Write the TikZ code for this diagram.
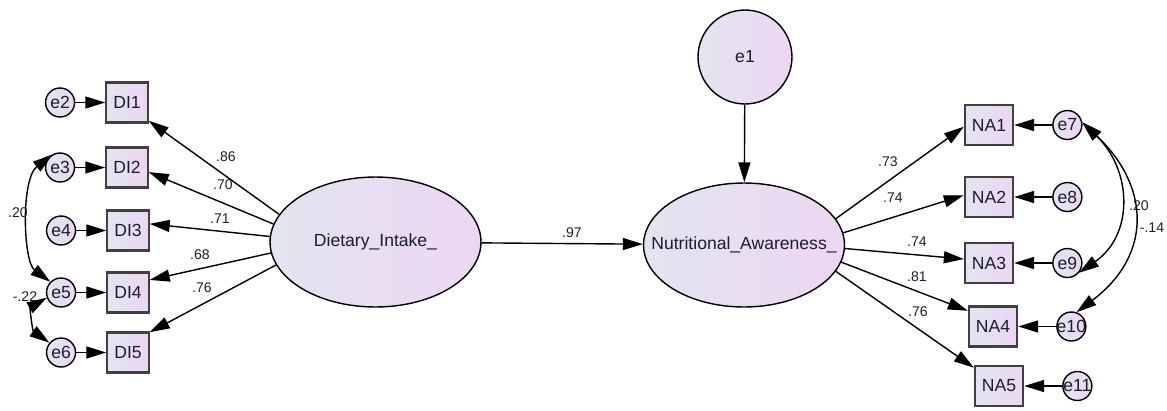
\documentclass[tikz,border=0pt]{standalone}
\usepackage{fontspec}
\setmainfont{Liberation Sans}
\usepackage{tikz}
\usetikzlibrary{arrows.meta,positioning,shapes.geometric}
\definecolor{bgL}{HTML}{E2E5EF}
\definecolor{bgR}{HTML}{EDD6F3}
\definecolor{ink}{HTML}{1C1C30}
\tikzset{
  grad/.style ={left color=bgL,right color=bgR},
  ind/.style  ={draw=black!75,line width=1.2pt,grad,minimum height=8mm,inner xsep=4pt,text=ink},
  fac/.style  ={ellipse,draw,line width=0.8pt,grad,inner sep=0pt,text=ink},
  res/.style  ={circle,draw,line width=0.8pt,grad,minimum size=5.8mm,inner sep=0pt,text=ink},
  flow/.style ={-{Triangle[length=4mm,width=2.4mm]},line width=0.8pt},
  cov/.style  ={{Triangle[length=4mm,width=2.4mm]}-{Triangle[length=4mm,width=2.4mm]},line width=0.8pt},
  lbl/.style  ={font=\fontsize{8pt}{9pt}\selectfont,text=ink,inner sep=0pt},
}
\newcommand{\zw}[1]{\makebox[0pt]{#1}}

\begin{document}
\begin{tikzpicture}[x=0.02cm,y=0.02cm,font=\fontsize{10pt}{12pt}\selectfont]
  \useasboundingbox (0,0) rectangle (1167,-410);
  % latent variables
  \node[fac,minimum width=4.22cm,minimum height=2.6cm] (di) at (375.5,-242) {\zw{Dietary\_Intake\_}};
  \node[fac,minimum width=4.02cm,minimum height=2.48cm] (na) at (744,-245) {\zw{Nutritional\_Awareness\_}};
  \node[res,minimum size=1.88cm] (e1) at (745,-57) {e1};
  \draw[flow] (e1) -- (na);
  \draw[flow] (di) -- (na);
  \node[lbl] (w97) at (572,-233) {.97};
  % dietary intake items
  \node[ind] (DI1) at (127,-102.5) {DI1};
  \node[ind] (DI2) at (127,-167.5) {DI2};
  \node[ind] (DI3) at (128,-230.5) {DI3};
  \node[ind] (DI4) at (128,-292.5) {DI4};
  \node[ind] (DI5) at (128,-352.5) {DI5};
  \node[res,left=6mm of DI1] (e2) {\zw{e2}};
  \node[res,left=6mm of DI2] (e3) {\zw{e3}};
  \node[res,left=6mm of DI3] (e4) {\zw{e4}};
  \node[res,left=6mm of DI4] (e5) {\zw{e5}};
  \node[res,left=6mm of DI5] (e6) {\zw{e6}};
  \draw[flow] (e2) -- (DI1);
  \draw[flow] (e3) -- (DI2);
  \draw[flow] (e4) -- (DI3);
  \draw[flow] (e5) -- (DI4);
  \draw[flow] (e6) -- (DI5);
  \draw[flow] (di.164.5) -- (DI1.-40);
  \draw[flow] (di.170) -- (DI2.-12);
  \draw[flow] (di.177) -- (DI3.17);
  \draw[flow] (di.186) -- (DI4.30);
  \draw[flow] (di.193) -- (DI5.43);
  \node[lbl] (wDI1) at (226,-157) {.86};
  \node[lbl] (wDI2) at (223,-185) {.70};
  \node[lbl] (wDI3) at (220,-219) {.71};
  \node[lbl] (wDI4) at (200,-255) {.68};
  \node[lbl] (wDI5) at (202,-288) {.76};
  \draw[cov] (e3.120) .. controls +(-32,-25) and +(-27,20) .. (e5.135);
  \draw[cov] (e5.200) .. controls +(-17,-10) and +(-17,12) .. (e6.140);
  \node[lbl] (c35) at (18,-213) {.20};
  \node[lbl] (c56) at (25,-297) {-.22};
  % nutritional awareness items
  \node[ind] (NA1) at (989,-125) {NA1};
  \node[ind] (NA2) at (989,-197) {NA2};
  \node[ind] (NA3) at (989,-263) {NA3};
  \node[ind] (NA4) at (993,-326.5) {NA4};
  \node[ind] (NA5) at (999,-386) {NA5};
  \node[res,right=7.6mm of NA1] (e7) {\zw{e7}};
  \node[res,right=7.6mm of NA2] (e8) {\zw{e8}};
  \node[res,right=7.6mm of NA3] (e9) {\zw{e9}};
  \node[res,right=7.6mm of NA4] (e10) {\zw{e10}};
  \node[res,right=7.6mm of NA5] (e11) {\zw{e11}};
  \draw[flow] (e7) -- (NA1);
  \draw[flow] (e8) -- (NA2);
  \draw[flow] (e9) -- (NA3);
  \draw[flow] (e10) -- (NA4);
  \draw[flow] (e11) -- (NA5);
  \draw[flow] (na.16) -- (NA1.184);
  \draw[flow] (na.7) -- (NA2.176);
  \draw[flow] (na.-2) -- (NA3.171);
  \draw[flow] (na.-10) -- (NA4.148);
  \draw[flow] (na.-16) -- (NA5.144);
  \node[lbl] (wNA1) at (888,-162) {.73};
  \node[lbl] (wNA2) at (893,-198) {.74};
  \node[lbl] (wNA3) at (917,-242) {.74};
  \node[lbl] (wNA4) at (917,-277) {.81};
  \node[lbl] (wNA5) at (918,-312) {.76};
  \draw[cov] (e7.10) .. controls +(50,-48) and +(55,38) .. (e9.-40);
  \draw[cov] (e7.10) .. controls +(67,-63) and +(77,58) .. (e10.70);
  \node[lbl] (c79) at (1139,-206) {.20};
  \node[lbl] (c710) at (1152,-228) {-.14};
\end{tikzpicture}
\end{document}
